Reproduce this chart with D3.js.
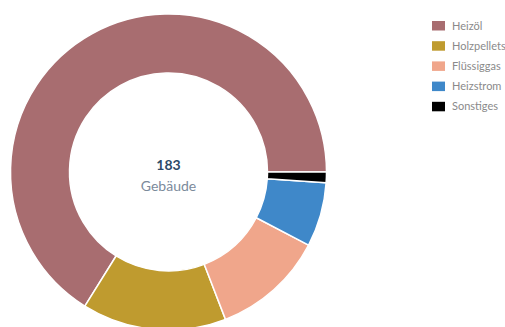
<!DOCTYPE html>
<html><head><meta charset="utf-8">
<script src="https://cdn.jsdelivr.net/npm/d3@7"></script>
<style>html,body{margin:0;padding:0;background:#fff;overflow:hidden}</style>
</head><body>
<svg id="c" width="505" height="327"></svg>
<script>
const categories = ["Heizöl", "Holzpellets", "Flüssiggas", "Heizstrom", "Sonstiges"];
const values = [121, 27, 21, 12, 2];
const colors = ["#a86d70", "#bf9b2f", "#f0a68b", "#3f88c9", "#000000"];
const totalLabel = "183";
const unitLabel = "Gebäude";

const svg = d3.select("#c");
const cx = 168.5, cy = 172, rOuter = 158, rInner = 99;

const pie = d3.pie().sort(null).value(d => d)
  .startAngle(Math.PI / 2).endAngle(Math.PI / 2 - 2 * Math.PI);
const arc = d3.arc().innerRadius(rInner).outerRadius(rOuter);
const color = d3.scaleOrdinal().domain(categories).range(colors);

const g = svg.append("g").attr("transform", `translate(${cx},${cy})`);
g.selectAll("path").data(pie(values)).join("path")
  .attr("d", arc)
  .attr("fill", (d, i) => color(categories[i]))
  .attr("stroke", "#fff").attr("stroke-width", 1.5).attr("stroke-linejoin", "round");

g.append("text").attr("text-anchor", "middle").attr("y", -2)
  .attr("font-family", "Lato, sans-serif").attr("font-size", 14).attr("font-weight", "bold")
  .attr("fill", "#2d4a68").text(totalLabel);
g.append("text").attr("text-anchor", "middle").attr("y", 19)
  .attr("font-family", "Lato, sans-serif").attr("font-size", 14)
  .attr("fill", "#7b8a9b").text(unitLabel);

const legend = svg.append("g").attr("transform", "translate(432,25.5)");
const rows = legend.selectAll("g").data(categories).join("g")
  .attr("transform", (d, i) => `translate(0,${i * 20.2})`);
rows.append("rect").attr("x", 0).attr("y", -4.5).attr("width", 13).attr("height", 9.5)
  .attr("fill", d => color(d));
rows.append("text").attr("x", 20).attr("y", 4)
  .attr("font-family", "Lato, sans-serif").attr("font-size", 11)
  .attr("fill", "#8a8a8a").text(d => d);
</script>
</body></html>
